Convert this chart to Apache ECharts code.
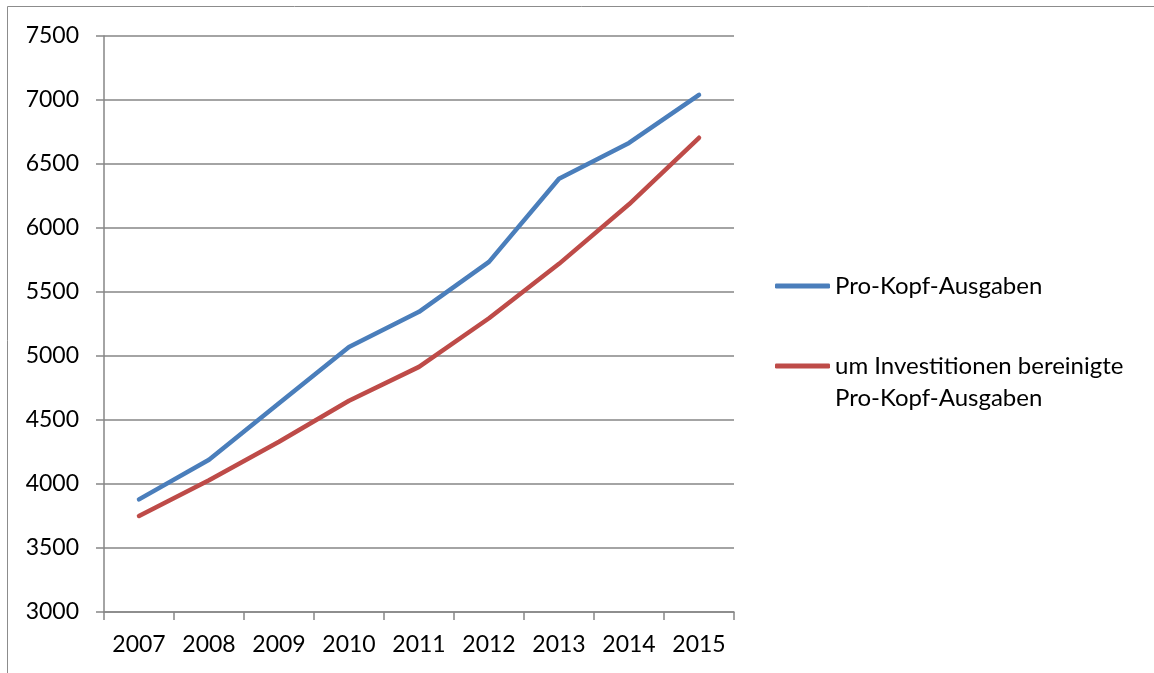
<!DOCTYPE html>
<html>
<head>
<meta charset="utf-8">
<script src="https://cdn.jsdelivr.net/npm/echarts@6/dist/echarts.min.js"></script>
<style>
  html, body { margin: 0; padding: 0; background: #fff; }
  #chart { width: 1154px; height: 673px; }
</style>
</head>
<body>
<div id="chart"></div>
<script>
  const years = ['2007', '2008', '2009', '2010', '2011', '2012', '2013', '2014', '2015'];
  const proKopf = [3880, 4190, 4630, 5070, 5345, 5735, 6385, 6665, 7040];
  const bereinigt = [3750, 4030, 4330, 4650, 4915, 5295, 5720, 6185, 6705];
  const nameA = 'Pro-Kopf-Ausgaben';
  const nameB = 'um Investitionen bereinigte\nPro-Kopf-Ausgaben';

  const font = 'Lato';
  const grey = '#868686';
  const myChart = echarts.init(document.getElementById('chart'));

  const legendText = { fontFamily: font, fontSize: 24, color: '#000', lineHeight: 32 };

  const option = {
    animation: false,
    textStyle: { fontFamily: font, color: '#000' },
    graphic: [{
      type: 'rect',
      shape: { x: 7.5, y: 6.5, width: 1200, height: 700 },
      style: { fill: 'none', stroke: '#8c8c8c', lineWidth: 1 },
      silent: true
    }],
    grid: { left: 104, right: 420, top: 36, bottom: 61 },
    legend: [{
      data: [nameA],
      orient: 'vertical',
      left: 775,
      top: 270,
      padding: 0,
      icon: 'roundRect',
      itemWidth: 55,
      itemHeight: 5,
      itemGap: 0,
      textStyle: legendText
    }, {
      data: [nameB],
      orient: 'vertical',
      left: 775,
      top: 318,
      padding: 0,
      icon: 'roundRect',
      itemWidth: 55,
      itemHeight: 5,
      itemGap: 0,
      // leading blank line keeps the first text line level with the icon
      formatter: function (name) { return '\n' + name; },
      textStyle: legendText
    }],
    xAxis: {
      type: 'category',
      data: years,
      boundaryGap: true,
      axisLine: { lineStyle: { color: grey, width: 1.5 } },
      axisTick: { show: true, length: 8, lineStyle: { color: grey, width: 1.5 } },
      axisLabel: { fontFamily: font, fontSize: 23, color: '#000', margin: 21 },
      splitLine: { show: false }
    },
    yAxis: {
      type: 'value',
      min: 3000,
      max: 7500,
      interval: 500,
      axisLine: { show: true, lineStyle: { color: grey, width: 1.5 } },
      axisTick: { show: true, length: 8, lineStyle: { color: grey, width: 1.5 } },
      axisLabel: {
        fontFamily: font, fontSize: 23, color: '#000', margin: 25,
        formatter: function (v) { return String(v); }
      },
      splitLine: { show: true, lineStyle: { color: grey, width: 1.5 } }
    },
    series: [{
      name: nameA,
      type: 'line',
      data: proKopf,
      showSymbol: false,
      itemStyle: { color: '#4a7ebb' },
      lineStyle: { color: '#4a7ebb', width: 4.5, cap: 'round', join: 'round' }
    }, {
      name: nameB,
      type: 'line',
      data: bereinigt,
      showSymbol: false,
      itemStyle: { color: '#be4b48' },
      lineStyle: { color: '#be4b48', width: 4.5, cap: 'round', join: 'round' }
    }]
  };
  myChart.setOption(option);
</script>
</body>
</html>
